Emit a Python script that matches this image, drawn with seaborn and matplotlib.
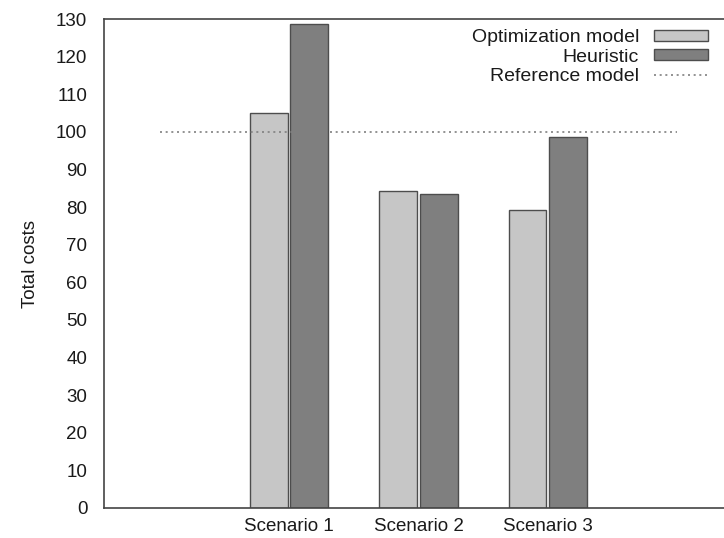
import matplotlib
matplotlib.use("Agg")
import matplotlib.pyplot as plt
import seaborn as sns
import pandas as pd
from matplotlib.lines import Line2D
from matplotlib.patches import Patch

scenarios = ["Scenario 1", "Scenario 2", "Scenario 3"]
optimization = [105.0, 84.3, 79.2]
heuristic = [128.8, 83.5, 98.6]
reference_value = 100
y_ticks = list(range(0, 131, 10))

methods = ["Optimization model", "Heuristic"]
colors = ["#c6c6c6", "#7f7f7f"]

df = pd.DataFrame({
    "scenario": scenarios * 2,
    "cost": optimization + heuristic,
    "method": [methods[0]] * 3 + [methods[1]] * 3,
})

sns.set_style("white")
plt.rcParams["font.family"] = ["Liberation Sans", "DejaVu Sans"]
plt.rcParams["font.size"] = 13.5
plt.rcParams["text.color"] = "#1a1a1a"
plt.rcParams["axes.labelcolor"] = "#1a1a1a"
plt.rcParams["xtick.labelcolor"] = "#1a1a1a"
plt.rcParams["ytick.labelcolor"] = "#1a1a1a"

fig = plt.figure(figsize=(7.24, 5.38), dpi=100)
W, H = 724, 538
left, right, top, bottom = 104, 742, 19, 508
ax = fig.add_axes([left / W, 1 - bottom / H, (right - left) / W, (bottom - top) / H])

sns.barplot(data=df, x="scenario", y="cost", hue="method", order=scenarios,
            hue_order=methods, palette=colors, width=0.63, gap=0.07,
            edgecolor="#4d4d4d", linewidth=1.0, saturation=1, ax=ax, legend=False)

ax.plot([-1, 3], [reference_value, reference_value], linestyle=(0, (1.2, 2.2)),
        color="#808080", linewidth=1.2, zorder=3)

ax.set_xlim(-1.43, 3.5)
ax.set_ylim(0, 130)
ax.set_yticks(y_ticks)
ax.set_xlabel("")
ax.set_ylabel("Total costs", fontsize=13.5, labelpad=12)
ax.tick_params(axis="y", direction="in", length=5, width=1, color="#555555",
               labelsize=13.5, pad=12)
ax.tick_params(axis="x", length=0, labelsize=13.5, pad=7)
for sp in ax.spines.values():
    sp.set_color("#444444")
    sp.set_linewidth(1.2)

handles = [
    Patch(facecolor=colors[0], edgecolor="#4d4d4d", linewidth=1.0),
    Patch(facecolor=colors[1], edgecolor="#4d4d4d", linewidth=1.0),
    Line2D([0], [0], linestyle=(0, (1.2, 2.2)), color="#808080", linewidth=1.2),
]
labels = methods + ["Reference model"]
fig.legend(handles, labels, loc="upper right", bbox_to_anchor=(708 / W, 1 - 29 / H),
           frameon=False, markerfirst=False, handlelength=2.8, handleheight=0.5,
           labelspacing=0.13, handletextpad=0.75, borderpad=0, borderaxespad=0,
           fontsize=14)

fig.savefig("out.png", dpi=100)
